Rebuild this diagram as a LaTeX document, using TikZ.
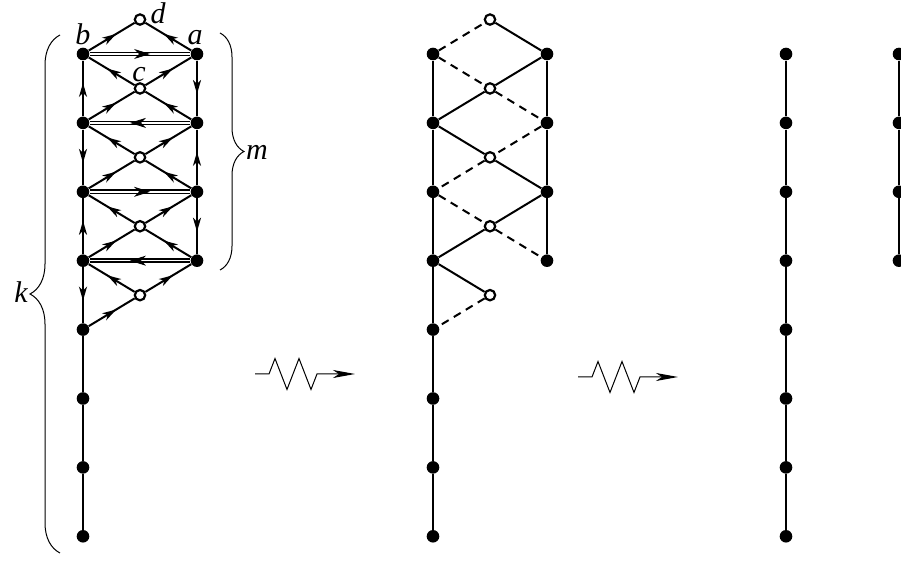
\documentclass[tikz,border=0pt]{standalone}
\usepackage{fontspec}
\setmainfont{Liberation Serif}
\usetikzlibrary{arrows.meta}
\usetikzlibrary{decorations.markings, decorations.pathreplacing, math}

\tikzset{
  fdot/.style={circle, fill=black, inner sep=0pt, minimum size=6.3pt},
  hole/.style={circle, draw=black, fill=white, line width=1.1pt, inner sep=0pt, minimum size=5.2pt},
  ln/.style={line width=1pt},
  dashln/.style={line width=1pt, dash pattern=on 4pt off 3pt},
  dbl/.style={double, double distance=0.8pt, line width=0.75pt},
  midarr/.style={postaction={decorate}, decoration={markings, mark=at position 0.6 with {\arrow{Stealth[length=7pt, width=4pt, inset=2pt]}}}},
  dblarr/.style={postaction={decorate}, decoration={markings, mark=at position 0.6 with {\arrow{Stealth[length=8pt, width=5pt, inset=2.5pt]}}}},
  lbl/.style={font=\fontsize{15}{17}\selectfont\itshape, anchor=base, inner sep=0pt},
  brc/.style={line width=0.5pt, decorate, decoration={brace, amplitude=#1}},
}

\begin{document}
\begin{tikzpicture}[x=0.5pt, y=-0.5pt]
\tikzmath{
\dy=68.9;%row spacing
\ytop=54;
}
\useasboundingbox (0,0) rectangle (901,561);

% left graph
\foreach \i in {1,...,8} \node[fdot] (l\i) at (83,{\ytop+(\i-1)*\dy}) {};
\foreach \i in {1,...,4} \node[fdot] (r\i) at (197,{\ytop+(\i-1)*\dy}) {};
\foreach \i in {1,...,5} \node[hole] (o\i) at (140,{\ytop+(\i-1.5)*\dy}) {};

\draw[ln, midarr] (l1) -- (o1);
\draw[ln, midarr] (r1) -- (o1);
\foreach \i/\j in {1/2,2/3,3/4,4/5}{
  \draw[ln, midarr] (o\j) -- (l\i);
  \draw[ln, midarr] (o\j) -- (r\i);
  \draw[ln, midarr] (l\j) -- (o\j);
}
\foreach \i/\j in {1/2,2/3,3/4} \draw[ln, midarr] (r\j) -- (o\j);

\foreach \a/\b in {2/1,2/3,4/3,4/5} \draw[ln, midarr] (l\a) -- (l\b);
\foreach \a/\b in {1/2,3/2,3/4} \draw[ln, midarr] (r\a) -- (r\b);
\foreach \a/\b in {5/6,6/7,7/8} \draw[ln] (l\a) -- (l\b);

\foreach \a/\b in {l1/r1,r2/l2,l3/r3,r4/l4}{
  \draw[dbl] (\a) -- (\b);
  \path[dblarr] (\a) -- (\b);
}

\node[lbl] (lb) at (83,45) {b};
\node[lbl] (la) at (195,45) {a};
\node[lbl] (ld) at (158,24) {d};
\node[lbl] (lc) at (139,82) {c};
\node[lbl] (lk) at (21,303) {k};
\node[lbl] (lm) at (257,160) {m};

\draw[brc=15pt] (60,553) -- (60,35);
\draw[brc=12pt] (220,33) -- (220,270);

% middle graph
\foreach \i in {1,...,8} \node[fdot] (ml\i) at (433,{\ytop+(\i-1)*\dy}) {};
\foreach \i in {1,...,4} \node[fdot] (mr\i) at (547,{\ytop+(\i-1)*\dy}) {};
\foreach \i in {1,...,5} \node[hole] (mo\i) at (490,{\ytop+(\i-1.5)*\dy}) {};

\foreach \a/\b in {1/2,2/3,3/4,4/5,5/6,6/7,7/8} \draw[ln] (ml\a) -- (ml\b);
\foreach \a/\b in {1/2,2/3,3/4} \draw[ln] (mr\a) -- (mr\b);
\foreach \a/\b in {mo1/mr1,mr1/mo2,mo2/ml2,ml2/mo3,mo3/mr3,mr3/mo4,mo4/ml4,ml4/mo5}
  \draw[ln] (\a) -- (\b);
\foreach \a/\b in {ml1/mo1,ml1/mo2,mo2/mr2,mr2/mo3,mo3/ml3,ml3/mo4,mo4/mr4,mo5/ml5}
  \draw[dashln] (\a) -- (\b);

% right graph
\foreach \i in {1,...,8} \node[fdot] (sl\i) at (786,{\ytop+(\i-1)*\dy}) {};
\foreach \i in {1,...,4} \node[fdot] (sr\i) at (899,{\ytop+(\i-1)*\dy}) {};
\foreach \a/\b in {1/2,2/3,3/4,4/5,5/6,6/7,7/8} \draw[ln] (sl\a) -- (sl\b);
\foreach \a/\b in {1/2,2/3,3/4} \draw[ln] (sr\a) -- (sr\b);

% squiggly arrows
\foreach \sx/\sy in {255/374,578/377}
  \draw[line width=0.5pt, -{Stealth[length=11pt, width=4pt, inset=3pt]}]
    (\sx,\sy) -- ++(14,0) -- ++(6,-15.5) -- ++(12,31) -- ++(12,-31)
    -- ++(12,31) -- ++(6,-15.5) -- ++(38,0);
\end{tikzpicture}
\end{document}
